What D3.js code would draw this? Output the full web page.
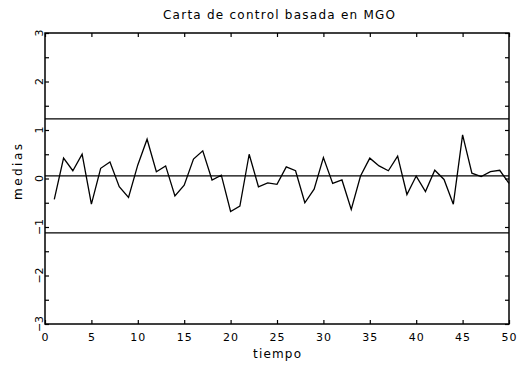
<!DOCTYPE html>
<html><head><meta charset="utf-8">
<script src="https://cdn.jsdelivr.net/npm/d3@7"></script>
<style>body{margin:0;background:#fff}svg{display:block}text{font-family:"DejaVu Sans",sans-serif;fill:#000}</style>
</head><body><svg id="c" width="525" height="365"></svg>
<script>
const tiempo = d3.range(1, 51);
const medias = [-0.43,0.42,0.16,0.50,-0.53,0.21,0.34,-0.17,-0.39,0.28,
  0.81,0.14,0.26,-0.36,-0.14,0.40,0.57,-0.03,0.07,-0.68,
  -0.57,0.50,-0.17,-0.09,-0.12,0.24,0.16,-0.50,-0.22,0.43,
  -0.10,-0.03,-0.64,0.05,0.42,0.26,0.16,0.46,-0.33,0.05,
  -0.27,0.17,-0.02,-0.53,0.90,0.11,0.04,0.14,0.17,-0.10];
const limites = [1.23, 0.055, -1.12];
const xTicks = [0,5,10,15,20,25,30,35,40,45,50];
const yTicks = [-3,-2,-1,0,1,2,3];
const yMinor = d3.range(-3, 3.01, 0.5);
const titulo = "Carta de control basada en MGO";

const svg = d3.select("#c");
const x = d3.scaleLinear().domain([0,50]).range([45,509]);
const y = d3.scaleLinear().domain([-3,3]).range([324,33]);

// frame
svg.append("rect").attr("x",x(0)).attr("y",y(3)).attr("width",x(50)-x(0)).attr("height",y(-3)-y(3))
  .attr("fill","none").attr("stroke","#000").attr("stroke-width",1.5);

// axes (ticks inward)
const gBottom = svg.append("g").attr("transform",`translate(0,${y(-3)})`)
  .call(d3.axisBottom(x).tickValues(xTicks).tickSize(-4).tickPadding(9).tickFormat(d=>d));
const gTop = svg.append("g").attr("transform",`translate(0,${y(3)})`)
  .call(d3.axisTop(x).tickValues(xTicks).tickSize(-4).tickFormat(""));
const gLeft = svg.append("g").attr("transform",`translate(${x(0)},0)`)
  .call(d3.axisLeft(y).tickValues(yMinor).tickSize(-4).tickFormat(""));
const gRight = svg.append("g").attr("transform",`translate(${x(50)},0)`)
  .call(d3.axisRight(y).tickValues(yMinor).tickSize(-4).tickFormat(""));
[gBottom,gTop,gLeft,gRight].forEach(g=>{
  g.select(".domain").remove();
  g.selectAll(".tick line").attr("stroke","#000").attr("stroke-width",1.2);
});
gBottom.selectAll(".tick text").attr("font-size",11).attr("font-family","DejaVu Sans").attr("letter-spacing",1);

// y labels rotated
svg.append("g").selectAll("text").data(yTicks).join("text")
  .attr("transform",d=>`translate(43,${y(d)}) rotate(-90)`)
  .attr("text-anchor","middle").attr("font-size",11)
  .text(d=>d<0?"\u2212"+Math.abs(d):d);

// control lines
svg.append("g").selectAll("line").data(limites).join("line")
  .attr("x1",x(0)).attr("x2",x(50)).attr("y1",d=>y(d)).attr("y2",d=>y(d))
  .attr("stroke","#000").attr("stroke-width",1.2);

// series
svg.append("path").datum(medias)
  .attr("d",d3.line().x((d,i)=>x(tiempo[i])).y(d=>y(d)))
  .attr("fill","none").attr("stroke","#000").attr("stroke-width",1.3).attr("stroke-linejoin","miter");

// titles
svg.append("text").attr("x",279).attr("y",19).attr("text-anchor","middle").attr("font-size",12)
  .attr("textLength",232).attr("lengthAdjust","spacing").text(titulo);
svg.append("text").attr("x",277).attr("y",358).attr("text-anchor","middle").attr("font-size",12)
  .attr("textLength",48).attr("lengthAdjust","spacing").text("tiempo");
svg.append("text").attr("transform",`translate(22,172) rotate(-90)`).attr("text-anchor","middle")
  .attr("font-size",12).attr("textLength",56).attr("lengthAdjust","spacing").text("medias");
</script></body></html>
